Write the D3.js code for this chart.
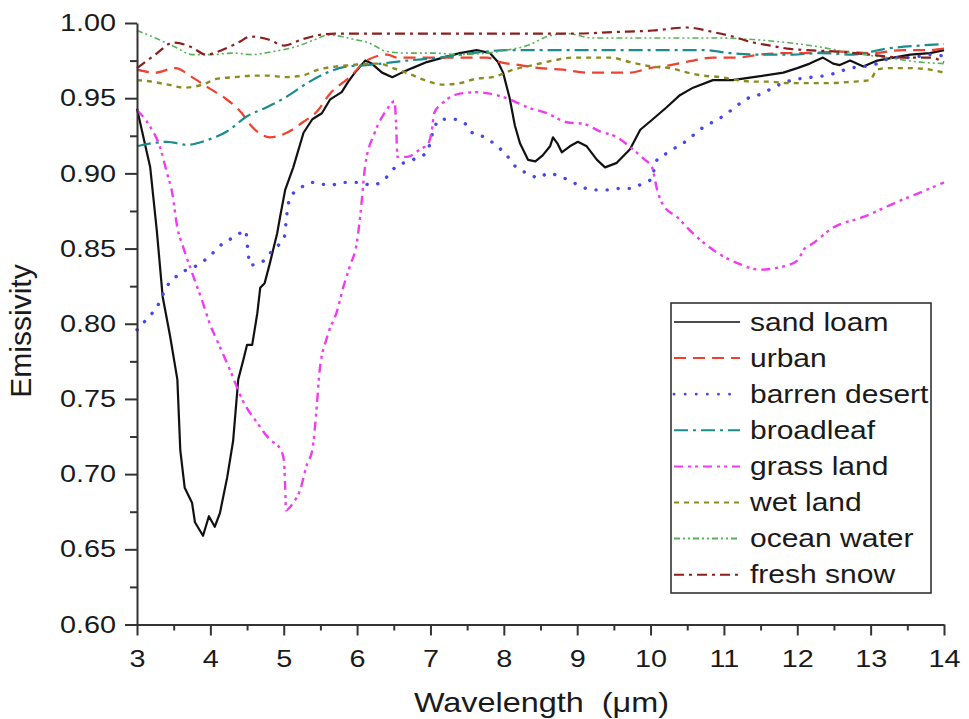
<!DOCTYPE html>
<html>
<head>
<meta charset="utf-8">
<script src="https://cdn.jsdelivr.net/npm/d3@7"></script>
<style>
  html, body { margin: 0; padding: 0; background: #fff; }
  svg { display: block; }
  text { font-family: "Liberation Sans", Arial, sans-serif; fill: #1a1a1a; }
</style>
</head>
<body>
<svg id="chart" width="969" height="719"></svg>
<script>
// Spectral emissivity of land-cover types, 3–14 µm: [wavelength (µm), emissivity]
const sandLoam = [
  [3.00,0.943],[3.18,0.904],[3.27,0.862],[3.35,0.818],[3.45,0.792],[3.55,0.763],[3.59,0.716],
  [3.65,0.691],[3.75,0.681],[3.79,0.668],[3.90,0.659],[3.98,0.672],[4.06,0.665],[4.13,0.674],
  [4.23,0.698],[4.31,0.722],[4.38,0.763],[4.45,0.776],[4.50,0.786],[4.57,0.786],[4.64,0.807],
  [4.68,0.824],[4.74,0.827],[4.81,0.840],[4.91,0.860],[4.95,0.871],[5.02,0.889],[5.13,0.904],
  [5.27,0.927],[5.39,0.936],[5.52,0.940],[5.63,0.949],[5.66,0.950],[5.79,0.954],[5.88,0.961],
  [5.97,0.967],[6.11,0.975],[6.20,0.973],[6.34,0.967],[6.48,0.964],[6.61,0.967],[6.75,0.970],
  [6.95,0.974],[7.17,0.977],[7.40,0.980],[7.63,0.982],[7.81,0.980],[7.92,0.974],[7.99,0.967],
  [8.08,0.950],[8.15,0.932],[8.22,0.920],[8.33,0.909],[8.43,0.908],[8.53,0.912],[8.63,0.918],
  [8.67,0.924],[8.73,0.920],[8.79,0.914],[8.90,0.918],[9.01,0.921],[9.13,0.918],[9.27,0.909],
  [9.38,0.904],[9.54,0.907],[9.72,0.916],[9.86,0.929],[10.03,0.936],[10.22,0.944],[10.40,0.952],
  [10.58,0.957],[10.85,0.962],[11.12,0.962],[11.40,0.964],[11.81,0.967],[12.00,0.970],
  [12.17,0.973],[12.35,0.977],[12.49,0.973],[12.58,0.972],[12.72,0.975],[12.90,0.971],
  [13.09,0.975],[13.31,0.977],[13.54,0.979],[13.81,0.980],[14.00,0.982]
];
const urban = [
  [3.00,0.969],[3.25,0.967],[3.52,0.970],[3.75,0.964],[3.97,0.957],[4.20,0.950],[4.43,0.940],
  [4.55,0.932],[4.66,0.927],[4.81,0.924],[5.04,0.927],[5.26,0.934],[5.45,0.941],[5.63,0.953],
  [5.90,0.964],[6.13,0.975],[6.41,0.979],[6.54,0.977],[6.76,0.977],[7.13,0.977],[7.50,0.977],
  [7.77,0.977],[7.95,0.974],[8.22,0.972],[8.49,0.970],[8.81,0.969],[9.13,0.967],[9.45,0.967],
  [9.72,0.967],[9.99,0.970],[10.27,0.972],[10.58,0.975],[10.85,0.977],[11.18,0.977],
  [11.49,0.979],[11.86,0.980],[12.13,0.980],[12.58,0.981],[13.03,0.980],[13.44,0.982],
  [13.77,0.982],[14.00,0.983]
];
const barrenDesert = [
  [3.00,0.796],[3.15,0.804],[3.27,0.811],[3.41,0.825],[3.55,0.832],[3.68,0.836],[3.83,0.839],
  [3.99,0.845],[4.16,0.853],[4.34,0.858],[4.48,0.862],[4.51,0.850],[4.54,0.839],[4.70,0.841],
  [4.85,0.849],[5.01,0.858],[5.03,0.867],[5.05,0.876],[5.09,0.884],[5.22,0.890],[5.40,0.894],
  [5.63,0.892],[5.80,0.894],[6.03,0.894],[6.20,0.892],[6.37,0.896],[6.52,0.904],[6.76,0.909],
  [6.95,0.914],[7.05,0.930],[7.13,0.936],[7.31,0.936],[7.50,0.932],[7.57,0.927],[7.74,0.924],
  [7.91,0.918],[8.04,0.912],[8.13,0.906],[8.32,0.900],[8.49,0.897],[8.59,0.900],[8.77,0.898],
  [8.94,0.894],[9.22,0.889],[9.41,0.889],[9.58,0.890],[9.72,0.890],[9.88,0.893],[10.03,0.897],
  [10.06,0.907],[10.24,0.914],[10.50,0.922],[10.67,0.929],[10.84,0.934],[11.02,0.939],
  [11.15,0.944],[11.33,0.950],[11.52,0.953],[11.67,0.957],[11.86,0.961],[12.04,0.963],
  [12.20,0.964],[12.38,0.965],[12.54,0.967],[12.72,0.970],[12.90,0.971],[13.09,0.973],
  [13.31,0.977],[13.54,0.977],[13.81,0.979],[14.00,0.978]
];
const broadleaf = [
  [3.00,0.918],[3.20,0.920],[3.41,0.921],[3.68,0.919],[3.95,0.922],[4.23,0.928],[4.50,0.938],
  [4.77,0.944],[5.04,0.951],[5.32,0.960],[5.59,0.967],[5.85,0.971],[6.13,0.972],[6.68,0.975],
  [7.13,0.977],[7.58,0.980],[8.04,0.982],[8.49,0.982],[9.04,0.982],[9.72,0.982],[10.30,0.982],
  [10.72,0.982],[11.08,0.980],[11.49,0.979],[11.94,0.979],[12.31,0.980],[12.76,0.979],
  [13.22,0.983],[13.67,0.985],[14.00,0.986]
];
const grassLand = [
  [3.00,0.942],[3.18,0.931],[3.31,0.918],[3.41,0.900],[3.48,0.887],[3.55,0.864],[3.63,0.851],
  [3.75,0.834],[3.89,0.815],[4.00,0.799],[4.09,0.789],[4.27,0.769],[4.44,0.749],[4.64,0.734],
  [4.81,0.723],[4.95,0.717],[5.00,0.710],[5.02,0.691],[5.03,0.676],[5.13,0.681],[5.22,0.689],
  [5.32,0.707],[5.39,0.716],[5.45,0.745],[5.49,0.769],[5.59,0.791],[5.73,0.809],[5.81,0.824],
  [5.90,0.838],[6.00,0.855],[6.05,0.875],[6.11,0.905],[6.24,0.927],[6.40,0.942],[6.51,0.948],
  [6.53,0.935],[6.55,0.911],[6.68,0.911],[6.86,0.916],[6.97,0.920],[7.02,0.929],[7.05,0.940],
  [7.17,0.947],[7.40,0.953],[7.63,0.954],[7.81,0.953],[8.04,0.950],[8.32,0.944],[8.59,0.940],
  [8.86,0.934],[9.08,0.933],[9.31,0.928],[9.54,0.924],[9.76,0.916],[9.90,0.910],[10.02,0.904],
  [10.09,0.889],[10.17,0.879],[10.36,0.871],[10.54,0.862],[10.72,0.854],[10.95,0.846],
  [11.20,0.840],[11.49,0.836],[11.80,0.838],[12.00,0.842],[12.10,0.850],[12.20,0.853],
  [12.49,0.864],[12.90,0.871],[13.36,0.881],[13.81,0.890],[14.00,0.894]
];
const wetLand = [
  [3.00,0.962],[3.20,0.961],[3.42,0.959],[3.65,0.957],[3.89,0.959],[4.10,0.963],[4.34,0.964],
  [4.57,0.965],[4.79,0.965],[5.02,0.964],[5.25,0.965],[5.47,0.969],[5.70,0.971],[5.93,0.972],
  [6.15,0.973],[6.30,0.973],[6.49,0.970],[6.72,0.966],[6.92,0.962],[7.17,0.959],[7.40,0.960],
  [7.63,0.963],[7.85,0.964],[8.13,0.969],[8.40,0.972],[8.67,0.975],[8.94,0.977],[9.18,0.977],
  [9.45,0.977],[9.72,0.974],[10.03,0.971],[10.27,0.970],[10.50,0.967],[10.72,0.965],
  [10.95,0.964],[11.18,0.962],[11.40,0.961],[11.63,0.961],[11.86,0.960],[12.13,0.960],
  [12.40,0.960],[12.76,0.961],[12.99,0.962],[13.09,0.969],[13.22,0.970],[13.54,0.970],
  [13.81,0.969],[14.00,0.967]
];
const oceanWater = [
  [3.00,0.995],[3.25,0.990],[3.52,0.984],[3.75,0.979],[4.02,0.979],[4.31,0.980],[4.57,0.979],
  [4.85,0.981],[5.15,0.984],[5.43,0.989],[5.60,0.992],[5.79,0.991],[5.97,0.989],[6.15,0.987],
  [6.41,0.981],[6.68,0.980],[7.03,0.980],[7.40,0.979],[7.77,0.980],[8.04,0.982],[8.32,0.985],
  [8.59,0.991],[8.86,0.993],[9.22,0.990],[9.58,0.990],[10.03,0.990],[10.50,0.990],
  [10.95,0.990],[11.40,0.989],[11.86,0.987],[12.31,0.984],[12.76,0.980],[13.22,0.977],
  [13.67,0.974],[14.00,0.973]
];
const freshSnow = [
  [3.00,0.970],[3.25,0.979],[3.50,0.987],[3.74,0.984],[3.94,0.979],[4.16,0.982],[4.38,0.987],
  [4.55,0.991],[4.79,0.989],[5.01,0.985],[5.24,0.989],[5.48,0.992],[5.70,0.993],[6.15,0.993],
  [6.60,0.993],[7.20,0.993],[7.80,0.993],[8.50,0.993],[9.00,0.993],[9.50,0.994],[10.03,0.995],
  [10.50,0.997],[10.85,0.994],[11.12,0.991],[11.40,0.987],[11.63,0.985],[11.86,0.983],
  [12.13,0.982],[12.54,0.981],[12.99,0.979],[13.44,0.977],[13.81,0.977],[14.00,0.974]
];

const seriesNames = ["sand loam","urban","barren desert","broadleaf","grass land","wet land","ocean water","fresh snow"];
const seriesData = [sandLoam, urban, barrenDesert, broadleaf, grassLand, wetLand, oceanWater, freshSnow];
const seriesColors = ["#111111","#f0402e","#4646f0","#1a8c8c","#f03cf0","#8c8c1e","#58b058","#8c1e1e"];
const seriesDash = ["", "12,7", "0.1,11", "14,5,3,5", "9,5,3,4,3,5", "5,5", "6,3,2,3,2,3", "10,5,3,5"];
const seriesWidth = [2.2, 2.2, 3.4, 2.2, 2.4, 2.4, 1.6, 2.2];

const xTicks = [3,4,5,6,7,8,9,10,11,12,13,14];
const yTicks = [0.60,0.65,0.70,0.75,0.80,0.85,0.90,0.95,1.00];
const xLabel = "Wavelength\u00a0\u00a0(\u03bcm)";
const yLabel = "Emissivity";

(function draw() {
  const svg = d3.select("#chart");
  const W = 969, H = 719;
  const mLeft = 137, mRight = 944, mTop = 23, mBottom = 624.5;
  const sx = 1.2; // horizontal text stretch

  svg.append("rect").attr("width", W).attr("height", H).attr("fill", "#fff");

  const x = d3.scaleLinear().domain([3, 14]).range([mLeft, mRight]);
  const y = d3.scaleLinear().domain([0.6, 1.0]).range([mBottom, mTop]);

  const line = d3.line().x(d => x(d[0])).y(d => y(d[1]));

  // curves
  const plot = svg.append("g");
  seriesData.forEach((data, i) => {
    plot.append("path")
      .datum(data)
      .attr("fill", "none")
      .attr("stroke", seriesColors[i])
      .attr("stroke-width", seriesWidth[i])
      .attr("stroke-dasharray", seriesDash[i] || null)
      .attr("stroke-linejoin", "round")
      .attr("stroke-linecap", i === 2 ? "round" : "butt")
      .attr("d", line.curve(i === 0 ? d3.curveLinear : d3.curveMonotoneX));
  });

  // axes: minor ticks first, then labelled major ticks
  const xMinor = d3.range(3.5, 14, 1);
  const yMinor = d3.range(0.625, 1.0, 0.05);

  svg.append("g").attr("transform", `translate(0,${mBottom})`)
    .call(d3.axisBottom(x).tickValues(xMinor).tickSize(6).tickSizeOuter(0).tickFormat(""))
    .call(g => g.select(".domain").remove())
    .call(g => g.selectAll("line").attr("stroke", "#333").attr("stroke-width", 2));

  svg.append("g").attr("transform", `translate(${mLeft},0)`)
    .call(d3.axisLeft(y).tickValues(yMinor).tickSize(7).tickSizeOuter(0).tickFormat(""))
    .call(g => g.select(".domain").remove())
    .call(g => g.selectAll("line").attr("stroke", "#333").attr("stroke-width", 2));

  const xAxis = svg.append("g").attr("transform", `translate(0,${mBottom})`)
    .call(d3.axisBottom(x).tickValues(xTicks).tickSize(11).tickSizeOuter(0).tickPadding(14).tickFormat(d3.format("d")));
  xAxis.select(".domain").attr("stroke", "#333").attr("stroke-width", 2);
  xAxis.selectAll("line").attr("stroke", "#333").attr("stroke-width", 2);
  xAxis.selectAll("text").attr("font-size", 24).attr("fill", "#1a1a1a")
    .attr("font-family", "Liberation Sans, Arial, sans-serif")
    .attr("transform", `scale(${sx},1)`);

  const yAxis = svg.append("g").attr("transform", `translate(${mLeft},0)`)
    .call(d3.axisLeft(y).tickValues(yTicks).tickSize(12).tickSizeOuter(0).tickFormat(d3.format(".2f")));
  yAxis.select(".domain").attr("stroke", "#333").attr("stroke-width", 2);
  yAxis.selectAll("line").attr("stroke", "#333").attr("stroke-width", 2);
  yAxis.selectAll("text").attr("font-size", 24).attr("fill", "#1a1a1a")
    .attr("font-family", "Liberation Sans, Arial, sans-serif")
    .attr("x", -21 / sx)
    .attr("transform", `scale(${sx},1)`);

  // axis titles
  svg.append("text")
    .attr("transform", `translate(${(mLeft + mRight) / 2 + 1},712) scale(${sx},1)`)
    .attr("text-anchor", "middle")
    .attr("font-size", 27)
    .text(xLabel);

  svg.append("text")
    .attr("transform", "translate(31,331) rotate(-90)")
    .attr("text-anchor", "middle")
    .attr("font-size", 30)
    .text(yLabel);

  // legend
  const lg = svg.append("g");
  lg.append("rect")
    .attr("x", 671).attr("y", 303).attr("width", 260).attr("height", 290)
    .attr("fill", "#fff").attr("stroke", "#333").attr("stroke-width", 1.6);
  seriesNames.forEach((name, i) => {
    const cy = 322 + i * 36.1;
    lg.append("line")
      .attr("x1", 674).attr("x2", 740).attr("y1", cy).attr("y2", cy)
      .attr("stroke", seriesColors[i])
      .attr("stroke-width", i === 0 ? 1.6 : (i === 2 ? 2.8 : 2))
      .attr("stroke-dasharray", seriesDash[i] || null)
      .attr("stroke-linecap", i === 2 ? "round" : "butt");
    lg.append("text")
      .attr("transform", `translate(750,${cy}) scale(${sx},1)`)
      .attr("dy", "0.35em")
      .attr("font-size", 25)
      .text(name);
  });
})();
</script>
</body>
</html>
